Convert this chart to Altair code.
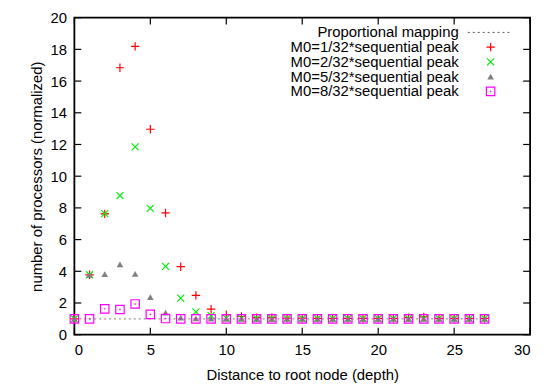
import altair as alt
import pandas as pd

# ---- data ----
depth = list(range(28))
proportional = [1.0] * 28
m0_1 = [1.0, 3.78, 7.62, 16.84, 18.19, 12.96, 7.68, 4.29, 2.48, 1.61, 1.26, 1.15, 1.08, 1.08,
        1.04, 1.04, 1.03, 1.03, 1.03, 1.03, 1.03, 1.03, 1.08, 1.12, 1.03, 1.03, 1.03, 1.03]
m0_2 = [1.0, 3.78, 7.64, 8.77, 11.85, 7.97, 4.31, 2.31, 1.44, 1.2, 1.05, 1.03, 1.02, 1.02,
        1.02, 1.02, 1.02, 1.02, 1.02, 1.02, 1.02, 1.02, 1.02, 1.02, 1.02, 1.02, 1.02, 1.02]
m0_5 = [1.0, 3.78, 3.82, 4.44, 3.84, 2.37, 1.4, 1.08, 1.03, 1.02, 1.0, 1.0, 1.0, 1.0,
        1.0, 1.0, 1.0, 1.0, 1.0, 1.0, 1.0, 1.0, 1.0, 1.0, 1.0, 1.0, 1.0, 1.0]
m0_8 = [1.0, 1.0, 1.63, 1.59, 1.94, 1.28, 1.02, 1.0, 1.0, 1.0, 1.0, 1.0, 1.0, 1.0,
        1.0, 1.0, 1.0, 1.0, 1.0, 1.0, 1.0, 1.0, 1.0, 1.0, 1.0, 1.0, 1.0, 1.0]

line_label = "Proportional mapping"
series_labels = ["M0=1/32*sequential peak", "M0=2/32*sequential peak",
                 "M0=5/32*sequential peak", "M0=8/32*sequential peak"]
series_values = [m0_1, m0_2, m0_5, m0_8]
x_ticks = [0, 5, 10, 15, 20, 25, 30]
y_ticks = [0, 2, 4, 6, 8, 10, 12, 14, 16, 18, 20]

# ---- styles ----
FONT = "Liberation Sans"
FS = 15
W, H = 460, 320
colors = ["#ff0000", "#00ee00", "#808080", "#ff00ff"]
shapes = ["M-1,0L1,0M0,-1L0,1", "M-1,-1L1,1M-1,1L1,-1", "triangle-up", "square"]
sizes = [72, 50, 45, 72]
filled = [False, False, True, False]

xs = alt.Scale(domain=[0, 30], nice=False, zero=False)
ys = alt.Scale(domain=[0, 20], nice=False, zero=False)

X_TITLE = "Distance to root node (depth)"
Y_TITLE = "number of processors (normalized)"

x_axis = alt.Axis(values=x_ticks, tickCount=7, ticks=False, domain=False, grid=False,
                  labelOverlap=False, labelPadding=8, titlePadding=10)
y_axis = alt.Axis(values=y_ticks, tickCount=11, ticks=False, domain=False, grid=False,
                  labelOverlap=False, labelPadding=8, titlePadding=5)

def xenc(field):
    return alt.X(field, type="quantitative", scale=xs, title=X_TITLE, axis=x_axis)

def yenc(field):
    return alt.Y(field, type="quantitative", scale=ys, title=Y_TITLE, axis=y_axis)

layers = []

# proportional mapping line
df_line = pd.DataFrame({"depth": depth, "v": proportional})
layers.append(
    alt.Chart(df_line).mark_line(color="#999999", strokeWidth=1.2, strokeDash=[2, 3]).encode(
        x=xenc("depth"), y=yenc("v"))
)

# legend layout in data units (text right edge, symbol position, row positions)
leg_text_x = 25.3
leg_sym_x = 27.4
leg_row_y = [19.07 - 0.93 * i for i in range(5)]

for i, (lab, vals) in enumerate(zip(series_labels, series_values)):
    df = pd.DataFrame({"depth": depth, "v": vals})
    layers.append(
        alt.Chart(df).mark_point(shape=shapes[i], filled=filled[i], color=colors[i],
                                 size=sizes[i], strokeWidth=1.2, opacity=1).encode(
            x=xenc("depth"), y=yenc("v"))
    )
    if i == 3:
        layers.append(
            alt.Chart(df).mark_point(shape="square", filled=True, color=colors[i],
                                     size=2, opacity=1).encode(x=xenc("depth"), y=yenc("v"))
        )
    # legend symbol
    dleg = pd.DataFrame({"lx": [leg_sym_x], "ly": [leg_row_y[i + 1]]})
    layers.append(
        alt.Chart(dleg).mark_point(shape=shapes[i], filled=filled[i], color=colors[i],
                                   size=sizes[i], strokeWidth=1.2, opacity=1).encode(
            x=xenc("lx"), y=yenc("ly"))
    )
    if i == 3:
        layers.append(
            alt.Chart(dleg).mark_point(shape="square", filled=True, color=colors[i],
                                       size=2, opacity=1).encode(x=xenc("lx"), y=yenc("ly"))
        )

# legend texts
df_leg = pd.DataFrame({"lx": [leg_text_x] * 5, "ly": leg_row_y,
                       "label": [line_label] + series_labels})
layers.append(
    alt.Chart(df_leg).mark_text(align="right", baseline="middle", font=FONT, fontSize=FS,
                                color="black").encode(
        x=xenc("lx"), y=yenc("ly"), text="label:N")
)
# legend line sample
df_legline = pd.DataFrame({"lx": [25.9], "lx2": [28.7], "ly": [leg_row_y[0]]})
layers.append(
    alt.Chart(df_legline).mark_rule(color="#555555", strokeWidth=1, strokeDash=[2, 3]).encode(
        x=xenc("lx"), x2="lx2:Q", y=yenc("ly"))
)

# inward ticks on all four sides
TL = 7
dxt = pd.DataFrame({"xt": x_ticks})
dyt = pd.DataFrame({"yt": y_ticks})
tick_style = dict(color="black", strokeWidth=1.2)
layers.append(alt.Chart(dxt).mark_rule(**tick_style).encode(
    x=xenc("xt"), y=alt.value(H), y2=alt.value(H - TL)))
layers.append(alt.Chart(dxt).mark_rule(**tick_style).encode(
    x=xenc("xt"), y=alt.value(0), y2=alt.value(TL)))
layers.append(alt.Chart(dyt).mark_rule(**tick_style).encode(
    y=yenc("yt"), x=alt.value(0), x2=alt.value(TL)))
layers.append(alt.Chart(dyt).mark_rule(**tick_style).encode(
    y=yenc("yt"), x=alt.value(W), x2=alt.value(W - TL)))

chart = alt.layer(*layers).properties(
    width=W, height=H,
    autosize=alt.AutoSizeParams(type="none"),
    padding={"left": 67, "top": 8, "right": 12, "bottom": 48},
    background="white",
).configure_view(
    stroke="black", strokeWidth=1.8
).configure_axis(
    labelFont=FONT, titleFont=FONT, labelFontSize=FS, titleFontSize=FS,
    labelColor="black", titleColor="black", titleFontWeight="normal",
)

chart.save("out.html", embed_options={"renderer": "svg", "actions": False})
